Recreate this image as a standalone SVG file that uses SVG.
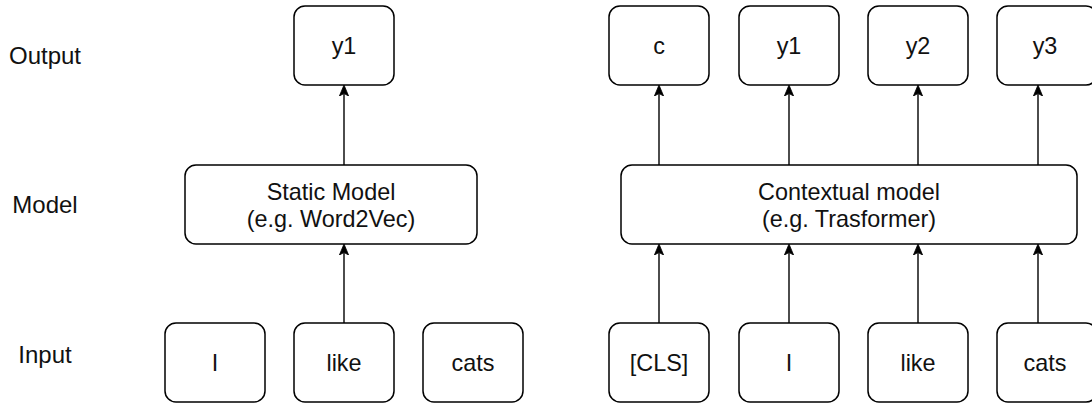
<svg xmlns="http://www.w3.org/2000/svg" width="1092" height="405" viewBox="0 0 1092 405">
  <style>
    .box { fill: #ffffff; stroke: #000000; stroke-width: 1.5; }
    .t { font-family: "Liberation Sans", Arial, Helvetica, sans-serif; font-size: 23.4px; fill: #111111; text-anchor: middle; }
    .lbl { font-family: "Liberation Sans", Arial, Helvetica, sans-serif; font-size: 24px; fill: #111111; text-anchor: middle; }
    .edge { fill: none; stroke: #000000; stroke-width: 1.4; marker-end: url(#arrow); }
  </style>
  <defs>
    <marker id="arrow" markerUnits="userSpaceOnUse" markerWidth="13" markerHeight="11" viewBox="0 -5.5 13 11" refX="2.5" refY="0" orient="auto">
      <path d="M0,-4.6 L11,0 L0,4.6 L2.5,0 Z" fill="#000000" stroke="#000000" stroke-width="0.8" stroke-linejoin="miter"/>
    </marker>
  </defs>
  <rect width="1092" height="405" fill="#ffffff"/>

  <g id="row-labels">
    <text class="lbl" x="45" y="64">Output</text>
    <text class="lbl" x="45" y="213">Model</text>
    <text class="lbl" x="45" y="363">Input</text>
  </g>

  <g id="connectors">
    <line class="edge" x1="344" y1="323" x2="344" y2="252.5"/>
    <line class="edge" x1="344" y1="165" x2="344" y2="93.5"/>
    <line class="edge" x1="659" y1="323" x2="659" y2="252.5"/>
    <line class="edge" x1="789" y1="323" x2="789" y2="252.5"/>
    <line class="edge" x1="918" y1="323" x2="918" y2="252.5"/>
    <line class="edge" x1="1038" y1="323" x2="1038" y2="252.5"/>
    <line class="edge" x1="659" y1="165" x2="659" y2="93.5"/>
    <line class="edge" x1="789" y1="165" x2="789" y2="93.5"/>
    <line class="edge" x1="918" y1="165" x2="918" y2="93.5"/>
    <line class="edge" x1="1038" y1="165" x2="1038" y2="93.5"/>
  </g>

  <g id="left-out-y1"><rect class="box" x="294" y="6" width="100" height="79" rx="11"/><text class="t" x="344" y="54">y1</text></g>
  <g id="static-model"><rect class="box" x="185" y="165" width="292" height="79" rx="11"/><text class="t" x="331" y="200">Static Model</text><text class="t" x="331" y="227">(e.g. Word2Vec)</text></g>
  <g id="left-in-I"><rect class="box" x="165" y="323" width="100" height="79" rx="11"/><text class="t" x="215" y="371">I</text></g>
  <g id="left-in-like"><rect class="box" x="294" y="323" width="100" height="79" rx="11"/><text class="t" x="344" y="371">like</text></g>
  <g id="left-in-cats"><rect class="box" x="423" y="323" width="100" height="79" rx="11"/><text class="t" x="473" y="371">cats</text></g>

  <g id="right-out-c"><rect class="box" x="609" y="6" width="100" height="79" rx="11"/><text class="t" x="659" y="54">c</text></g>
  <g id="right-out-y1"><rect class="box" x="739" y="6" width="100" height="79" rx="11"/><text class="t" x="789" y="54">y1</text></g>
  <g id="right-out-y2"><rect class="box" x="868" y="6" width="100" height="79" rx="11"/><text class="t" x="918" y="54">y2</text></g>
  <g id="right-out-y3"><rect class="box" x="997" y="6" width="100" height="79" rx="11"/><text class="t" x="1045" y="54">y3</text></g>
  <g id="contextual-model"><rect class="box" x="621" y="165" width="456" height="79" rx="11"/><text class="t" x="849" y="200">Contextual model</text><text class="t" x="849" y="227">(e.g. Trasformer)</text></g>
  <g id="right-in-cls"><rect class="box" x="609" y="323" width="100" height="79" rx="11"/><text class="t" x="659" y="371">[CLS]</text></g>
  <g id="right-in-I"><rect class="box" x="739" y="323" width="100" height="79" rx="11"/><text class="t" x="789" y="371">I</text></g>
  <g id="right-in-like"><rect class="box" x="868" y="323" width="100" height="79" rx="11"/><text class="t" x="918" y="371">like</text></g>
  <g id="right-in-cats"><rect class="box" x="997" y="323" width="100" height="79" rx="11"/><text class="t" x="1045" y="371">cats</text></g>
</svg>
